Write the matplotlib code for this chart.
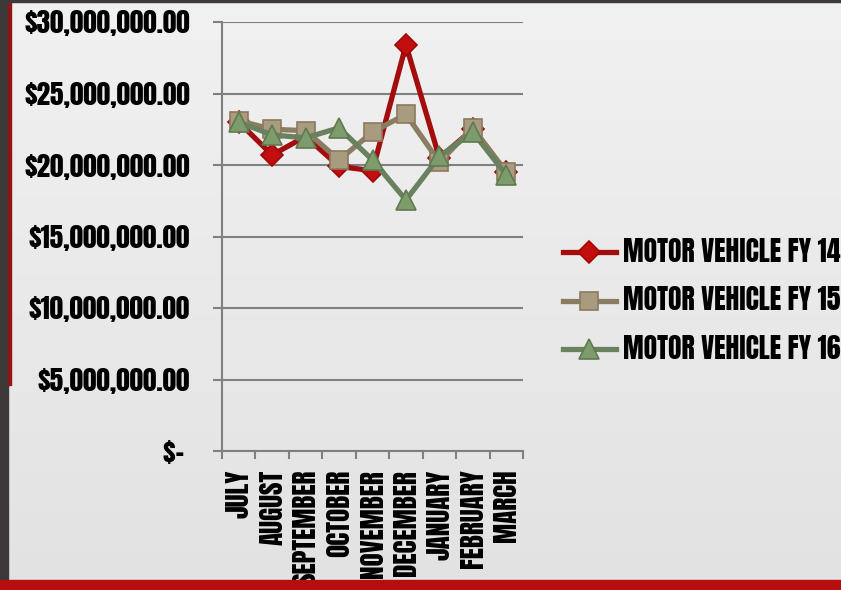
import numpy as np
import matplotlib
matplotlib.use("Agg")
import matplotlib.pyplot as plt
from matplotlib.patches import Rectangle
from matplotlib.colors import LinearSegmentedColormap
from matplotlib.ticker import FuncFormatter, FixedLocator

# data (dollars)
months = ["JULY", "AUGUST", "SEPTEMBER", "OCTOBER", "NOVEMBER",
          "DECEMBER", "JANUARY", "FEBRUARY", "MARCH"]
fy14 = [23.0e6, 20.7e6, 22.0e6, 19.9e6, 19.6e6, 28.4e6, 20.5e6, 22.5e6, 19.5e6]
fy15 = [23.1e6, 22.5e6, 22.4e6, 20.35e6, 22.3e6, 23.55e6, 20.2e6, 22.6e6, 19.5e6]
fy16 = [23.0e6, 22.1e6, 21.9e6, 22.6e6, 20.35e6, 17.55e6, 20.6e6, 22.3e6, 19.3e6]
series_names = ["MOTOR VEHICLE FY 14", "MOTOR VEHICLE FY 15", "MOTOR VEHICLE FY 16"]

# Impact-like condensed face
plt.rcParams['font.family'] = ['Anton', 'DejaVu Sans']

W, H = 841, 590
fig = plt.figure(figsize=(W / 100, H / 100), dpi=100)

# background gradient
bg = fig.add_axes([0, 0, 1, 1], zorder=-5)
grad = np.linspace(0, 1, 256).reshape(-1, 1)
cmap = LinearSegmentedColormap.from_list("bg", ["#f1f1f1", "#e2e2e2"])
bg.imshow(grad, aspect="auto", cmap=cmap, extent=[0, 1, 0, 1])
bg.set_axis_off()

# slide frame
fig.patches.append(Rectangle((0, 0), 8 / W, 1, transform=fig.transFigure,
                             color="#3d3839", zorder=10))
fig.patches.append(Rectangle((8 / W, 1 - 385 / H), 3 / W, 385 / H,
                             transform=fig.transFigure, color="#8e1515", zorder=10))
fig.patches.append(Rectangle((0, 1 - 2 / H), 1, 2 / H, transform=fig.transFigure,
                             color="#3d3839", zorder=10))
fig.patches.append(Rectangle((0, 0), 1, 10 / H, transform=fig.transFigure,
                             color="#b60e0e", zorder=10))

ax = fig.add_axes([222 / W, 1 - 451 / H, (523 - 222) / W, (451 - 22) / H])
ax.set_facecolor("none")

x = np.arange(len(months)) + 0.5
styles = [
    dict(color="#a30d0d", marker="D", ms=11, mfc="#c20e0e", mec="#a00808"),
    dict(color="#8b7d62", marker="s", ms=13.5, mfc="#a99b80", mec="#8a7b5f"),
    dict(color="#6a8160", marker="^", ms=14, mfc="#7d9c6c", mec="#62794f"),
]
for vals, name, st in zip([fy14, fy15, fy16], series_names, styles):
    ax.plot(x, vals, lw=3.8, mew=1.2, label=name, solid_joinstyle="miter", **st)

ax.set_xlim(0, len(months))
ax.set_ylim(0, 30e6)
ax.set_yticks(np.arange(0, 30e6 + 1, 5e6))


def money(v, pos):
    if v == 0:
        return "$- "
    return "${:,.2f}".format(v)


ax.yaxis.set_major_formatter(FuncFormatter(money))
ax.grid(axis="y", color="#808080", lw=1.5)
ax.set_axisbelow(True)

ax.xaxis.set_major_locator(FixedLocator(np.arange(len(months) + 1)))
ax.xaxis.set_major_formatter(FuncFormatter(lambda v, p: ""))
ax.xaxis.set_minor_locator(FixedLocator(x))
ax.set_xticklabels(months, minor=True, rotation=90, fontsize=19.5)
ax.tick_params(axis="x", which="major", length=5.8, width=1.5, color="#808080")
ax.tick_params(axis="x", which="minor", length=0, pad=13.5)
ax.tick_params(axis="y", length=6.5, width=1.5, color="#808080", pad=16.5,
               labelsize=19.5)

for s in ["top", "right"]:
    ax.spines[s].set_visible(False)
for s in ["left", "bottom"]:
    ax.spines[s].set_color("#808080")
    ax.spines[s].set_linewidth(1.5)

leg = fig.legend(loc="center left", bbox_to_anchor=(563 / W, 1 - 300 / H),
                 frameon=False, fontsize=20, borderpad=0, handlelength=1.9,
                 handletextpad=0.25, labelspacing=0.78, borderaxespad=0)

fig.savefig("out.png", dpi=100)
